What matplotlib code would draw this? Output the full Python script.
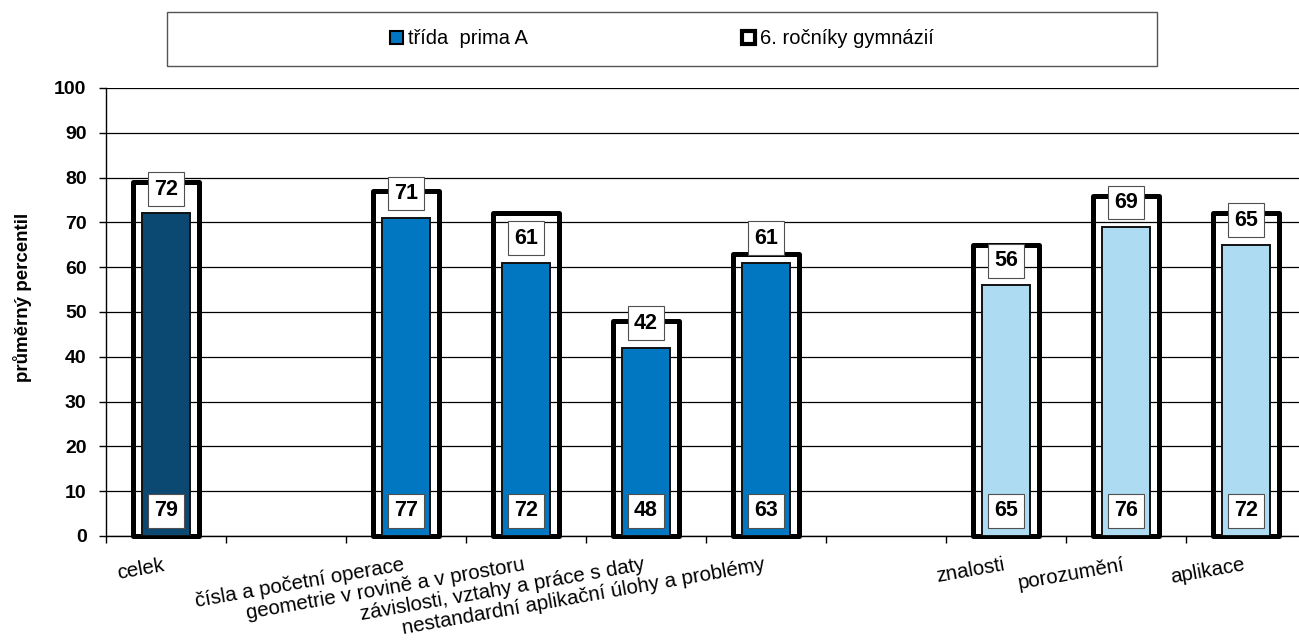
import matplotlib
matplotlib.use("Agg")
import matplotlib.pyplot as plt
from matplotlib.patches import Patch, Rectangle
import numpy as np

plt.rcParams['font.family'] = ['Liberation Sans', 'DejaVu Sans']

# category slots (empty strings are the gaps between groups)
categories = ["celek", "", "čísla a početní operace", "geometrie v rovině a v prostoru",
              "závislosti, vztahy a práce s daty", "nestandardní aplikační úlohy a problémy",
              "", "znalosti", "porozumění", "aplikace"]
prima_a = [72, None, 71, 61, 42, 61, None, 56, 69, 65]
gymnazia = [79, None, 77, 72, 48, 63, None, 65, 76, 72]
bar_colors = ["#0B4872", None, "#0077C0", "#0077C0", "#0077C0", "#0077C0",
              None, "#ADDCF2", "#ADDCF2", "#ADDCF2"]
series_names = ["třída  prima A", "6. ročníky gymnázií"]
yticks = [0, 10, 20, 30, 40, 50, 60, 70, 80, 90, 100]


def main():
    W, H = 1299, 641
    fig = plt.figure(figsize=(W/100, H/100), dpi=100)
    ax = fig.add_axes([106/W, 1-536/H, 1200/W, 448/H])

    idx = [i for i, v in enumerate(prima_a) if v is not None]
    xs = np.array(idx)
    inner = np.array([prima_a[i] for i in idx])
    outer = np.array([gymnazia[i] for i in idx])
    cols = [bar_colors[i] for i in idx]

    # comparison bars: empty outline behind, class bars inside
    ax.bar(xs, outer, width=0.555, fill=False, edgecolor='black', linewidth=3.6,
           joinstyle='round', zorder=3, clip_on=False)
    ax.bar(xs, inner, width=0.4, color=cols, edgecolor='#111111', linewidth=1.4, zorder=4)

    box = dict(boxstyle='square,pad=0.3', fc='white', ec='#505050', lw=0.8)
    for xi, a, g in zip(xs, inner, outer):
        ax.annotate(str(a), (xi, a), xytext=(0, 10), textcoords='offset points',
                    ha='center', va='bottom', fontsize=15.5, fontweight='bold', bbox=box, zorder=6)
        ax.annotate(str(g), (xi, 0), xytext=(0, 10.5), textcoords='offset points',
                    ha='center', va='bottom', fontsize=15.5, fontweight='bold', bbox=box, zorder=6)

    ax.set_xlim(-0.5, len(categories)-0.5)
    ax.set_ylim(0, 100)
    ax.set_yticks(yticks)
    ax.set_yticklabels([str(t) for t in yticks], fontsize=14, fontweight='bold')
    ax.yaxis.grid(True, color='black', linewidth=0.9, zorder=0)
    ax.set_axisbelow(True)
    ax.tick_params(axis='y', length=5, width=1, pad=9)

    ax.set_xticks(np.arange(len(categories)))
    ax.set_xticklabels(categories, rotation=10, ha='right', fontsize=14.8)
    ax.tick_params(axis='x', which='major', length=0, pad=14)
    ax.set_xticks(np.arange(len(categories)+1)-0.5, minor=True)
    ax.tick_params(axis='x', which='minor', length=5, width=1)

    for s in ['top', 'right']:
        ax.spines[s].set_visible(False)
    ax.spines['left'].set_linewidth(1)
    ax.spines['bottom'].set_linewidth(1)

    ax.set_ylabel("průměrný percentil", fontsize=13.5, fontweight='bold')
    ax.yaxis.set_label_coords((32-106)/1200, (536-297)/448)

    handles = [Patch(fc="#0077C0", ec='black', lw=1.5),
               Patch(fc='white', ec='black', lw=3)]
    fig.legend(handles, series_names, loc='center', bbox_to_anchor=(662/W, 1-39/H), ncol=2,
               frameon=False, fontsize=14.5, handlelength=0.65, handleheight=0.65,
               handletextpad=0.25, columnspacing=10.6)
    fig.patches.append(Rectangle((167/W, 1-66/H), 990/W, 54/H, transform=fig.transFigure,
                                 fill=False, ec='#555555', lw=1))

    fig.savefig("out.png", dpi=100)


if __name__ == "__main__":
    main()
